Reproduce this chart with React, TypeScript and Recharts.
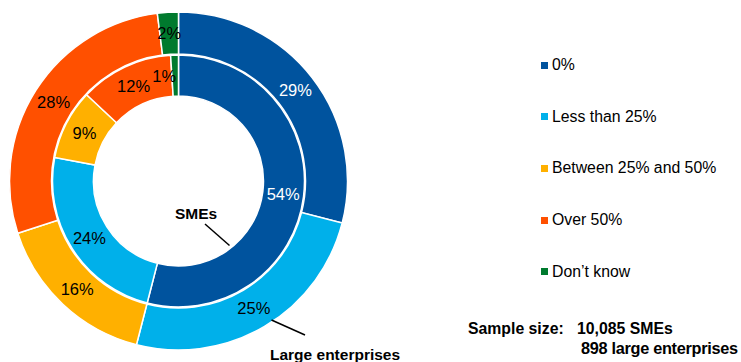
import { PieChart, Pie, Cell, Legend } from "recharts";

const categories = ["0%", "Less than 25%", "Between 25% and 50%", "Over 50%", "Don\u2019t know"];
const smeValues = [54, 24, 9, 12, 1];
const largeValues = [29, 25, 16, 28, 2];

const COLORS = ["#00539E", "#00B0EA", "#FFB000", "#FF5000", "#007A2E"];
const LABEL_COLORS = ["#ffffff", "#000000", "#000000", "#000000", "#000000"];

const FONT = "'Liberation Sans', Arial, sans-serif";
const RADIAN = Math.PI / 180;

const smeData = categories.map((name, i) => ({ name, value: smeValues[i] }));
const largeData = categories.map((name, i) => ({ name, value: largeValues[i] }));

const renderLabel = (props: any) => {
  const { cx, cy, midAngle, innerRadius, outerRadius, value, index } = props;
  const r = (innerRadius + outerRadius) / 2;
  const x = cx + r * Math.cos(-midAngle * RADIAN);
  const y = cy + r * Math.sin(-midAngle * RADIAN);
  // very thin slice: label hangs to the left, like the original
  const thin = value < 2;
  return (
    <text
      x={thin ? x + 1 : x}
      y={y}
      fill={LABEL_COLORS[index]}
      textAnchor={thin ? "end" : "middle"}
      dominantBaseline="central"
      fontSize={16.5}
      fontFamily={FONT}
    >
      {value}%
    </text>
  );
};

const renderLegend = () => (
  <div style={{ fontFamily: FONT, fontSize: 15.8, color: "#000" }}>
    {categories.map((c, i) => (
      <div
        key={c}
        style={{
          position: "absolute",
          left: 0,
          top: i * 51.7,
          height: 20,
          display: "flex",
          alignItems: "center",
          whiteSpace: "nowrap",
        }}
      >
        <span
          style={{
            display: "inline-block",
            width: 7,
            height: 7,
            background: COLORS[i],
            marginRight: 4,
          }}
        />
        {c}
      </div>
    ))}
  </div>
);

export default function App() {
  return (
    <div style={{ position: "absolute", left: 0, top: 0, width: 741, height: 362, background: "#fff" }}>
      <PieChart width={741} height={362} margin={{ top: 0, right: 0, bottom: 0, left: 0 }}>
        <Pie
          data={smeData}
          dataKey="value"
          cx={178.5}
          cy={181}
          innerRadius={85}
          outerRadius={126}
          startAngle={90}
          endAngle={-270}
          stroke="#fff"
          strokeWidth={1.5}
          labelLine={false}
          label={renderLabel}
          isAnimationActive={false}
        >
          {smeData.map((d, i) => (
            <Cell key={d.name} fill={COLORS[i]} />
          ))}
        </Pie>
        <Pie
          data={largeData}
          dataKey="value"
          cx={178.5}
          cy={181}
          innerRadius={127}
          outerRadius={169}
          startAngle={90}
          endAngle={-270}
          stroke="#fff"
          strokeWidth={1.5}
          labelLine={false}
          label={renderLabel}
          isAnimationActive={false}
        >
          {largeData.map((d, i) => (
            <Cell key={d.name} fill={COLORS[i]} />
          ))}
        </Pie>
        <Legend
          content={renderLegend}
          wrapperStyle={{ position: "absolute", left: 541, top: 55, width: 200, height: 230 }}
        />
      </PieChart>

      {/* annotations */}
      <svg
        width={741}
        height={362}
        style={{ position: "absolute", left: 0, top: 0, pointerEvents: "none" }}
        fontFamily={FONT}
      >
        <text x={196} y={213} textAnchor="middle" dominantBaseline="central" fontSize={15.5} fontWeight="bold">
          SMEs
        </text>
        <line x1={205} y1={224} x2={229.5} y2={245.5} stroke="#000" strokeWidth={1.5} />
        <line x1={271.5} y1={320} x2={305} y2={335} stroke="#000" strokeWidth={1.5} />
        <text x={270} y={354} dominantBaseline="central" fontSize={15.5} fontWeight="bold">
          Large enterprises
        </text>
        <text x={468} y={328} dominantBaseline="central" fontSize={15.8} fontWeight="bold">
          Sample size:
        </text>
        <text x={577} y={328} dominantBaseline="central" fontSize={15.8} fontWeight="bold">
          10,085 SMEs
        </text>
        <text
          x={581}
          y={347.5}
          dominantBaseline="central"
          fontSize={16.3}
          fontWeight="bold"
          textLength={157}
          lengthAdjust="spacing"
        >
          898 large enterprises
        </text>
      </svg>
    </div>
  );
}
